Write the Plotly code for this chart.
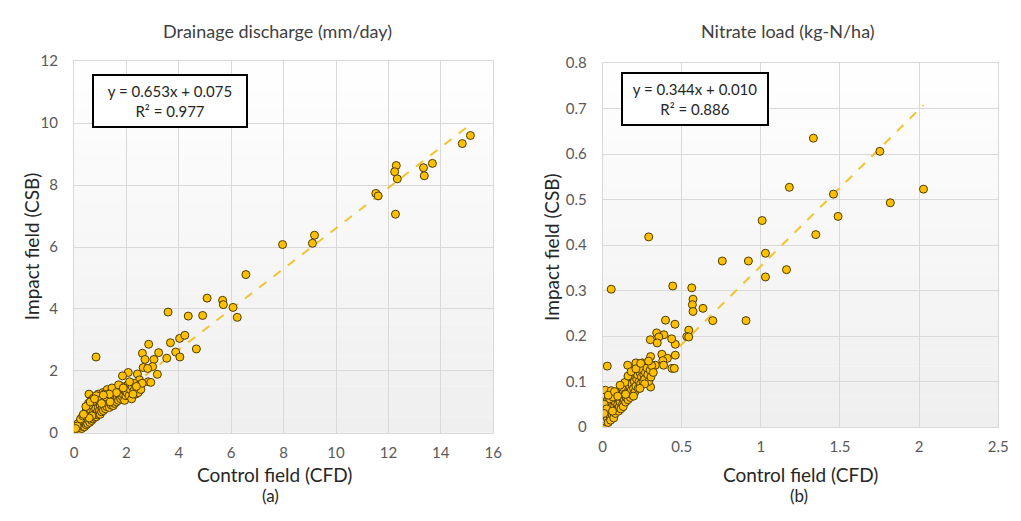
import plotly.graph_objects as go

# ---------------- data: (a) Drainage discharge (mm/day) ----------------
dd_x = [15.13, 14.82, 13.68, 13.34, 13.37, 12.30, 12.24, 12.34, 12.27, 11.52, 11.61,
        7.96, 9.18, 9.10, 6.56, 5.08, 5.67, 5.70, 6.07, 6.23, 3.59, 4.36, 4.91, 4.67,
        4.03, 4.23, 3.68, 2.85, 3.88, 4.04, 3.54, 3.23, 2.61, 2.71, 3.05, 2.64, 3.00,
        2.81, 3.18, 2.83, 2.93, 0.84, 2.07, 1.85, 2.42, 2.50, 2.35, 2.52,
        0.02, 0.04, 0.05, 0.07, 0.08, 0.10, 0.10, 0.12, 0.13, 0.15, 0.16, 0.18, 0.20,
        0.20, 0.22, 0.24, 0.25, 0.27, 0.28, 0.30, 0.30, 0.32, 0.34, 0.35, 0.37, 0.38,
        0.40, 0.40, 0.42, 0.44, 0.45, 0.47, 0.48, 0.50, 0.50,
        0.52, 0.55, 0.55, 0.57, 0.58, 0.60, 0.62, 0.63, 0.65, 0.67, 0.70, 0.70, 0.72,
        0.74, 0.75, 0.78, 0.80, 0.80, 0.83, 0.85, 0.87, 0.88, 0.90, 0.92, 0.93, 0.95,
        0.97, 1.00, 1.00,
        1.02, 1.05, 1.07, 1.10, 1.10, 1.12, 1.15, 1.18, 1.20, 1.22, 1.25, 1.27, 1.30,
        1.32, 1.35, 1.37, 1.40, 1.42, 1.45, 1.48, 1.50, 1.50,
        1.53, 1.55, 1.58, 1.60, 1.62, 1.65, 1.68, 1.70, 1.72, 1.75, 1.78, 1.80, 1.82,
        1.85, 1.88, 1.90, 1.93, 1.95, 1.98, 2.00,
        2.02, 2.05, 2.10, 2.15, 2.20, 2.22, 2.28, 2.30, 2.35, 2.40, 2.45, 2.50, 2.55, 2.60,
        0.15, 0.25, 0.33, 0.45, 0.62, 0.68, 0.85, 0.95, 1.05, 1.15, 1.25, 1.38, 1.45,
        1.62, 1.70, 1.88, 2.12, 2.25, 2.38, 1.35, 1.12, 0.78, 0.58, 0.36, 0.12, 0.06]
dd_y = [9.60, 9.34, 8.70, 8.56, 8.30, 8.63, 8.43, 8.20, 7.06, 7.73, 7.65,
        6.08, 6.38, 6.12, 5.11, 4.35, 4.28, 4.14, 4.05, 3.73, 3.90, 3.77, 3.79, 2.71,
        3.05, 3.15, 2.91, 2.86, 2.61, 2.45, 2.41, 2.59, 2.57, 2.37, 2.37, 2.11, 2.14,
        2.08, 1.89, 1.65, 1.63, 2.45, 1.95, 1.84, 1.90, 1.71, 1.45, 1.38,
        0.02, 0.05, 0.03, 0.06, 0.10, 0.05, 0.12, 0.08, 0.18, 0.10, 0.22, 0.12, 0.15,
        0.28, 0.10, 0.20, 0.35, 0.16, 0.25, 0.40, 0.14, 0.30, 0.20, 0.50, 0.24, 0.38,
        0.60, 0.20, 0.30, 0.45, 0.68, 0.26, 0.36, 0.55, 0.80,
        0.30, 0.42, 0.95, 1.25, 0.62, 0.34, 0.50, 0.75, 1.05, 0.40, 0.58, 0.88, 0.45,
        1.12, 0.70, 0.50, 0.62, 0.95, 0.78, 0.52, 1.00, 0.66, 0.58, 1.25, 0.82, 0.62,
        0.72, 0.90, 0.60,
        1.10, 0.68, 0.80, 1.00, 1.30, 0.72, 0.90, 1.15, 0.78, 1.05, 0.85, 1.40, 0.95,
        1.20, 0.82, 1.05, 1.30, 0.90, 1.15, 1.00, 1.35, 0.88,
        1.10, 0.95, 1.25, 1.45, 1.00, 1.18, 1.35, 1.05, 1.40, 1.20, 1.10, 1.30, 1.50,
        1.15, 1.25, 1.40, 1.05, 1.35, 1.20, 1.45,
        1.30, 1.55, 1.20, 1.40, 1.10, 1.50, 1.35, 1.60, 1.25, 1.45, 1.30, 1.55, 1.40, 1.60,
        0.30, 0.45, 0.55, 0.85, 1.00, 0.55, 1.20, 1.05, 0.95, 1.25, 1.15, 1.00, 1.45,
        1.30, 1.55, 1.45, 1.65, 1.25, 1.50, 1.25, 1.22, 1.10, 0.48, 0.60, 0.22, 0.14]
dd_slope, dd_intercept, dd_r2 = 0.653, 0.075, 0.977

# ---------------- data: (b) Nitrate load (kg-N/ha) ----------------
nl_x = [1.332, 1.752, 1.180, 2.028, 1.459, 1.818, 1.488, 1.347, 1.008, 1.029, 1.029,
        1.162, 0.756, 0.921, 0.906, 0.696, 0.634, 0.563, 0.571, 0.567, 0.571, 0.443,
        0.291, 0.054, 0.397, 0.457, 0.544, 0.532, 0.544, 0.459, 0.459, 0.436, 0.341,
        0.387, 0.355, 0.301, 0.345, 0.374, 0.409, 0.380, 0.385, 0.438, 0.453, 0.303,
        0.029, 0.158, 0.210, 0.251, 0.303, 0.333, 0.303,
        0.005, 0.010, 0.012, 0.015, 0.020, 0.020, 0.025, 0.030, 0.030, 0.035, 0.040,
        0.040, 0.045, 0.050, 0.050, 0.055, 0.060, 0.060, 0.065, 0.070, 0.070, 0.075,
        0.080, 0.080, 0.085, 0.090, 0.095, 0.100, 0.100, 0.105, 0.110, 0.110, 0.115,
        0.120, 0.125, 0.130, 0.130, 0.135, 0.140, 0.145, 0.150, 0.150, 0.155, 0.160,
        0.165, 0.170, 0.170, 0.175, 0.180, 0.185, 0.190, 0.190, 0.195, 0.200, 0.200,
        0.205, 0.210, 0.215, 0.220, 0.225, 0.230, 0.235, 0.240, 0.245, 0.250, 0.255,
        0.260, 0.265, 0.270, 0.280, 0.285, 0.290, 0.300, 0.305, 0.310, 0.320,
        0.017, 0.054, 0.030, 0.045, 0.065, 0.010, 0.025, 0.008,
        0.035, 0.075, 0.095, 0.120, 0.140, 0.160, 0.180, 0.210, 0.240, 0.265, 0.290,
        0.235, 0.195, 0.145, 0.110, 0.062]
nl_y = [0.635, 0.606, 0.527, 0.523, 0.512, 0.493, 0.463, 0.423, 0.454, 0.382, 0.330,
        0.346, 0.365, 0.365, 0.234, 0.234, 0.261, 0.306, 0.281, 0.269, 0.254, 0.310,
        0.418, 0.303, 0.235, 0.226, 0.213, 0.199, 0.198, 0.182, 0.158, 0.194, 0.207,
        0.203, 0.198, 0.192, 0.185, 0.160, 0.151, 0.146, 0.136, 0.129, 0.129, 0.155,
        0.134, 0.136, 0.141, 0.141, 0.136, 0.136, 0.088,
        0.002, 0.008, 0.020, 0.005, 0.030, 0.012, 0.045, 0.020, 0.060, 0.010, 0.035,
        0.052, 0.025, 0.065, 0.015, 0.040, 0.050, 0.028, 0.060, 0.020, 0.038, 0.045,
        0.055, 0.030, 0.072, 0.040, 0.050, 0.035, 0.062, 0.045, 0.055, 0.075, 0.040,
        0.065, 0.050, 0.080, 0.045, 0.060, 0.070, 0.055, 0.085, 0.065, 0.100, 0.060,
        0.075, 0.090, 0.102, 0.065, 0.080, 0.095, 0.110, 0.070, 0.085, 0.100, 0.120,
        0.078, 0.090, 0.105, 0.115, 0.085, 0.100, 0.120, 0.095, 0.110, 0.125, 0.100,
        0.115, 0.105, 0.120, 0.130, 0.115, 0.100, 0.125, 0.110, 0.135, 0.120,
        0.081, 0.080, 0.058, 0.062, 0.066, 0.050, 0.040, 0.030,
        0.070, 0.078, 0.068, 0.088, 0.098, 0.112, 0.122, 0.128, 0.140, 0.095, 0.145,
        0.085, 0.068, 0.072, 0.092, 0.035]
nl_slope, nl_intercept, nl_r2 = 0.344, 0.010, 0.886

# ---------------- styling ----------------
FONT = "Lato"
MARKER_FILL = "#FFC000"
MARKER_EDGE = "#4d3b00"
TREND = "#F2C230"
GRID = "#d9d9d9"

fig = go.Figure()

def add_panel(xs, ys, slope, intercept, xa, ya):
    x_end = max(xs)
    fig.add_trace(go.Scatter(
        x=[0, x_end], y=[intercept, slope * x_end + intercept], mode="lines",
        line=dict(color=TREND, width=2, dash="dash"), xaxis=xa, yaxis=ya,
        showlegend=False, hoverinfo="skip"))
    fig.add_trace(go.Scatter(
        x=xs, y=ys, mode="markers",
        marker=dict(size=8, color=MARKER_FILL, line=dict(color=MARKER_EDGE, width=1)),
        xaxis=xa, yaxis=ya, showlegend=False))

add_panel(dd_x, dd_y, dd_slope, dd_intercept, "x", "y")
add_panel(nl_x, nl_y, nl_slope, nl_intercept, "x2", "y2")

W, H = 1021, 521
L_dom = [71 / W, 496 / W]
R_dom = [607 / W, 1008 / W]
L_ydom = [1 - 438 / H, 1 - 53 / H]
R_ydom = [1 - 432 / H, 1 - 55 / H]

tickfont = dict(family=FONT, size=15, color="#595959")
axis_common = dict(showgrid=True, gridcolor=GRID, gridwidth=1, zeroline=False,
                   showline=True, linecolor=GRID, linewidth=1, mirror=True,
                   tickfont=tickfont, ticks="")

fig.update_layout(
    width=W, height=H, margin=dict(l=0, r=0, t=0, b=0),
    paper_bgcolor="white", plot_bgcolor="white",
    xaxis=dict(domain=L_dom, range=[0, 16], dtick=2, anchor="y",
               ticklabelstandoff=6, **axis_common),
    yaxis=dict(domain=L_ydom, range=[0, 12], dtick=2, anchor="x",
               ticklabelstandoff=12, **axis_common),
    xaxis2=dict(domain=R_dom, range=[0, 2.5], dtick=0.5, anchor="y2",
                ticklabelstandoff=6, **axis_common),
    yaxis2=dict(domain=R_ydom, range=[0, 0.8], dtick=0.1, anchor="x2",
                ticklabelstandoff=12, **axis_common),
)

# gradient background inside each plot area (white top -> light grey bottom)
N = 24
for xr, yr in (("x", "y"), ("x2", "y2")):
    for i in range(N):
        t = i / N
        g = int(round(255 - 16 * (1 - t)))
        fig.add_shape(type="rect", xref=f"{xr} domain", yref=f"{yr} domain",
                      x0=0, x1=1, y0=t, y1=(i + 1) / N, layer="below",
                      line=dict(width=0), fillcolor=f"rgb({g},{g},{g})")

texts = [
    # titles
    dict(x=(162 + 393) / 2 / W, y=1 - 22 / H, text="Drainage discharge (mm/day)", size=18, color="#404040"),
    dict(x=795 / W, y=1 - 22 / H, text="Nitrate load (kg-N/ha)", size=18, color="#404040"),
    # x-axis titles
    dict(x=274 / W, y=1 - 481 / H, text="Control field (CFD)", size=19, color="#262626"),
    dict(x=808 / W, y=1 - 481 / H, text="Control field (CFD)", size=19, color="#262626"),
    # panel labels
    dict(x=270 / W, y=1 - 503 / H, text="(a)", size=17, color="#262626"),
    dict(x=806 / W, y=1 - 503 / H, text="(b)", size=17, color="#262626"),
]
for t in texts:
    fig.add_annotation(x=t["x"], y=t["y"], xref="paper", yref="paper", text=t["text"],
                       showarrow=False, xanchor="center", yanchor="middle",
                       font=dict(family=FONT, size=t["size"], color=t["color"]))

for xc in (28, 555):
    fig.add_annotation(x=xc / W, y=1 - 245 / H, xref="paper", yref="paper",
                       text="Impact field (CSB)", textangle=-90, showarrow=False,
                       xanchor="center", yanchor="middle",
                       font=dict(family=FONT, size=19, color="#262626"))

# equation boxes
boxes = [((92 + 244) / 2, (67 + 121) / 2, dd_slope, dd_intercept, dd_r2, 148),
         ((629 + 773) / 2, (66 + 119) / 2, nl_slope, nl_intercept, nl_r2, 140)]
for cx, cy, s, b, r2, w in boxes:
    fig.add_annotation(x=cx / W, y=1 - cy / H, xref="paper", yref="paper",
                       text=f"y = {s:.3f}x + {b:.3f}<br>R² = {r2:.3f}",
                       showarrow=False, xanchor="center", yanchor="middle",
                       align="center", width=w, height=46,
                       bordercolor="#000000", borderwidth=2, borderpad=2, bgcolor="white",
                       font=dict(family=FONT, size=15, color="#262626"))

fig.write_html("out.html")
